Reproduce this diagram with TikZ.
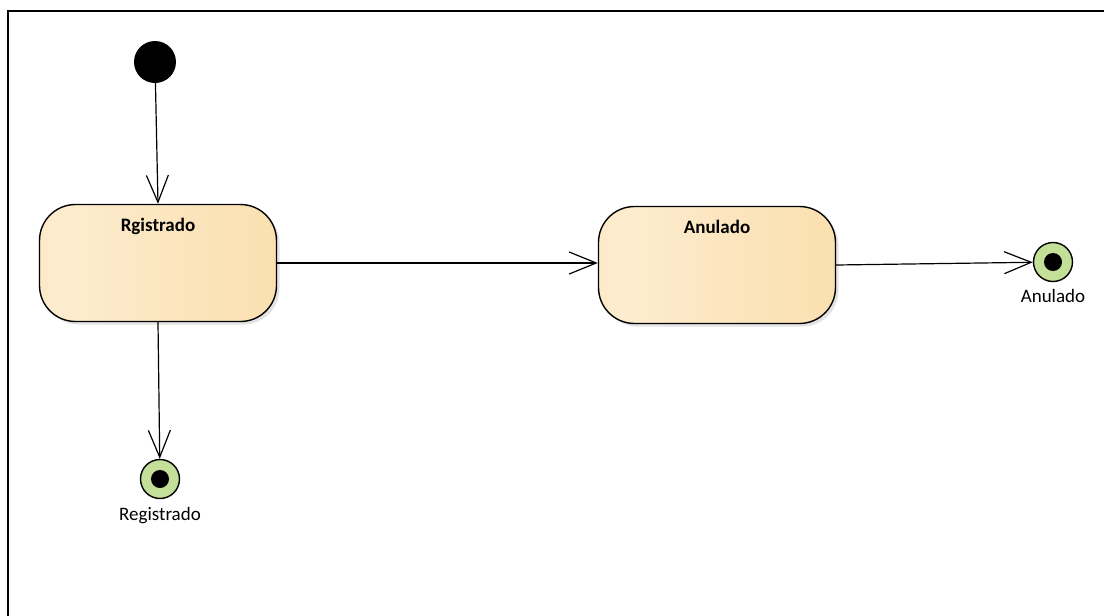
\documentclass[tikz,border=0pt]{standalone}
\usepackage{fontspec}
\setmainfont{Carlito}
\usetikzlibrary{arrows.meta,positioning,shadows}
\definecolor{PeachLight}{RGB}{253,236,207}
\definecolor{PeachDark}{RGB}{249,216,158}
\definecolor{FinalGreen}{RGB}{196,224,152}
\pgfdeclarehorizontalshading{peach}{100bp}{
  color(0bp)=(PeachDark!70!PeachLight); color(30bp)=(PeachLight);
  color(100bp)=(PeachDark)}

\tikzset{
  statebox/.style={draw, line width=1.4pt, rounded corners=36pt,
    minimum width=237pt, minimum height=117pt, shading=peach,
    drop shadow={shadow xshift=3pt, shadow yshift=-3pt, fill=black!22}},
  startdot/.style={circle, fill=black, minimum size=42pt, inner sep=0pt},
  enddot/.style={circle, draw, line width=1.4pt, fill=FinalGreen,
    minimum size=39pt, inner sep=0pt},
  flow/.style={-{Straight Barb[length=27pt,width=22pt]}, line width=1.2pt},
  boxtext/.style={font=\bfseries\fontsize{19}{21}\selectfont},
  endtext/.style={font=\fontsize{19}{21}\selectfont},
}

\begin{document}
\begin{tikzpicture}[x=1pt, y=-1pt]
\useasboundingbox (0,0) rectangle (1104,616);
% frame
\draw[line width=2pt] (8,616) -- (8,11) -- (1104,11);

% states
\node[startdot] (init) at (155,62) {};
\node[statebox] (reg) at (158,263) {};
\node[boxtext, below=11pt of reg.north] (regtxt) {Rgistrado};
\node[statebox] (anu) at (717,265) {};
\node[boxtext, below=11pt of anu.north] (anutxt) {Anulado};

% final states
\node[enddot] (finreg) at (160,479) {};
\fill (finreg) circle (9pt);
\node[endtext, below=5pt of finreg] (finregtxt) {Registrado};
\node[enddot] (finanu) at (1053,262) {};
\fill (finanu) circle (9pt);
\node[endtext, below=4pt of finanu] (finanutxt) {Anulado};

% transitions
\draw[flow] (init) -- (reg.north);
\draw[flow] (reg.east) -- (anu.west |- reg.east);
\draw[flow] (anu.east) -- (finanu);
\draw[flow] (reg.south) -- (finreg);
\end{tikzpicture}
\end{document}
